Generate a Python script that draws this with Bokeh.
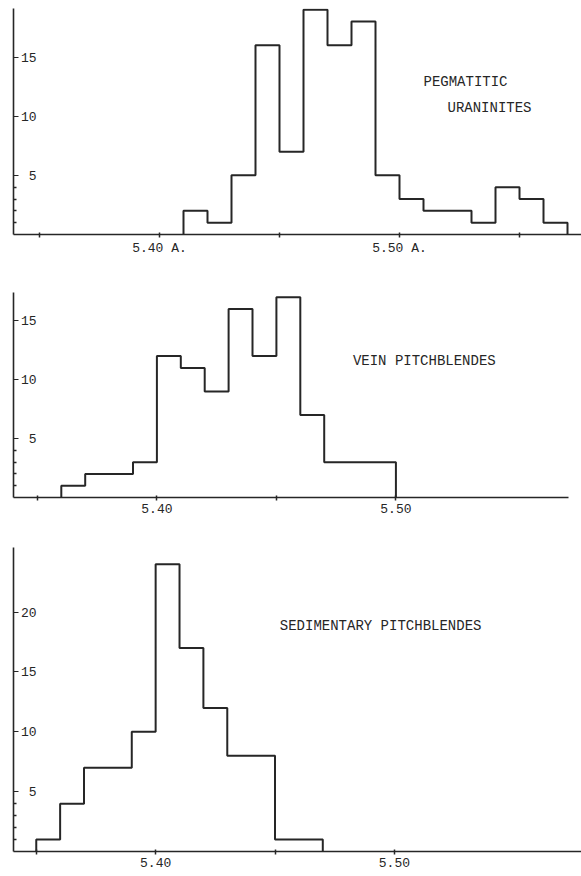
from bokeh.plotting import figure
from bokeh.models import FixedTicker, Label, Range1d
from bokeh.layouts import column
from bokeh.embed import file_html
from bokeh.resources import INLINE

# ---------------- data ----------------
# Panel 1: pegmatitic uraninites (bin width 0.01 A, first bin starts at 5.41)
peg_start = 5.41
peg_counts = [2, 1, 5, 16, 7, 19, 16, 18, 5, 3, 2, 2, 1, 4, 3, 1]
# Panel 2: vein pitchblendes (first bin starts at 5.36)
vein_start = 5.36
vein_counts = [1, 2, 2, 3, 12, 11, 9, 16, 12, 17, 7, 3, 3, 3]
# Panel 3: sedimentary pitchblendes (first bin starts at 5.35)
sed_start = 5.35
sed_counts = [1, 4, 7, 7, 10, 24, 17, 12, 8, 8, 1, 1]
bin_width = 0.01

peg_xticks = [5.35, 5.40, 5.45, 5.50, 5.55]
peg_xlabels = ["", "5.40 A.", "", "5.50 A.", ""]
vein_xticks = [5.35, 5.40, 5.45, 5.50]
vein_xlabels = ["", "5.40", "", "5.50"]
sed_xticks = [5.35, 5.40, 5.45, 5.50]
sed_xlabels = ["", "5.40", "", "5.50"]

peg_yticks = [5, 10, 15]
vein_yticks = [5, 10, 15]
sed_yticks = [5, 10, 15, 20]
minor_yticks = [1, 2, 3, 4]

peg_title = ["PEGMATITIC", "URANINITES"]
vein_title = "VEIN PITCHBLENDES"
sed_title = "SEDIMENTARY PITCHBLENDES"

INK = "#262626"
TXT = "#262626"
FONT = "Liberation Mono"


def step_xy(start, counts):
    edges = [round(start + i * bin_width, 4) for i in range(len(counts) + 1)]
    xs = [edges[0]] + edges
    ys = [0] + list(counts) + [0]
    return xs, ys


def make_panel(counts, start, xr, yr, xticks, xlabels, yticks, w, h,
               bl, bt, bb, xbounds=None):
    p = figure(width=w, height=h, output_backend="svg", toolbar_location=None,
               x_range=Range1d(*xr), y_range=Range1d(*yr),
               min_border_left=bl, min_border_right=0,
               min_border_top=bt, min_border_bottom=bb)
    p.outline_line_color = None
    p.xgrid.visible = False
    p.ygrid.visible = False
    p.background_fill_color = "white"
    p.border_fill_color = "white"

    xs, ys = step_xy(start, counts)
    p.step(xs, ys, mode="after", line_color=INK, line_width=2)

    xa = p.xaxis[0]
    xa.ticker = FixedTicker(ticks=xticks)
    xa.major_label_overrides = {t: l for t, l in zip(xticks, xlabels)}
    if xbounds is not None:
        xa.bounds = xbounds
    xa.axis_line_color = INK
    xa.axis_line_width = 1.6
    xa.major_tick_in = 2
    xa.major_tick_out = 3
    xa.major_tick_line_color = INK
    xa.major_tick_line_width = 1.5
    xa.minor_tick_line_color = None
    xa.major_label_standoff = 3
    xa.major_label_text_font = FONT
    xa.major_label_text_font_size = "13px"
    xa.major_label_text_color = TXT

    ya = p.yaxis[0]
    ya.ticker = FixedTicker(ticks=yticks, minor_ticks=minor_yticks)
    ya.axis_line_color = INK
    ya.axis_line_width = 1.6
    ya.major_tick_in = 5
    ya.major_tick_out = 0
    ya.minor_tick_in = 3
    ya.minor_tick_out = 0
    ya.major_tick_line_color = INK
    ya.minor_tick_line_color = INK
    ya.major_tick_line_width = 1.2
    ya.minor_tick_line_width = 1.5
    ya.major_label_standoff = -23
    ya.major_label_text_font = FONT
    ya.major_label_text_font_size = "13px"
    ya.major_label_text_color = TXT
    return p


def add_text(p, x, y, txt):
    p.add_layout(Label(x=x, y=y, text=txt, text_font=FONT,
                       text_font_size="14px", text_color=TXT,
                       text_baseline="middle"))


p1 = make_panel(peg_counts, peg_start, (5.33917, 5.57583), (0, 19.1),
                peg_xticks, peg_xlabels, peg_yticks, 581, 266, 13, 8, 32)
add_text(p1, 5.51, 12.85, peg_title[0])
add_text(p1, 5.52, 10.65, peg_title[1])

p2 = make_panel(vein_counts, vein_start, (5.34, 5.57765), (0, 17.4),
                vein_xticks, vein_xlabels, vein_yticks, 581, 261, 12, 26, 30,
                xbounds=(5.34, 5.5722))
add_text(p2, 5.482, 11.6, vein_title)

p3 = make_panel(sed_counts, sed_start, (5.34047, 5.57835), (0, 25.4),
                sed_xticks, sed_xlabels, sed_yticks, 581, 349, 7, 20, 25)
add_text(p3, 5.452, 18.8, sed_title)

layout = column(p1, p2, p3, spacing=0)

with open("out.html", "w") as f:
    f.write(file_html(layout, INLINE))
